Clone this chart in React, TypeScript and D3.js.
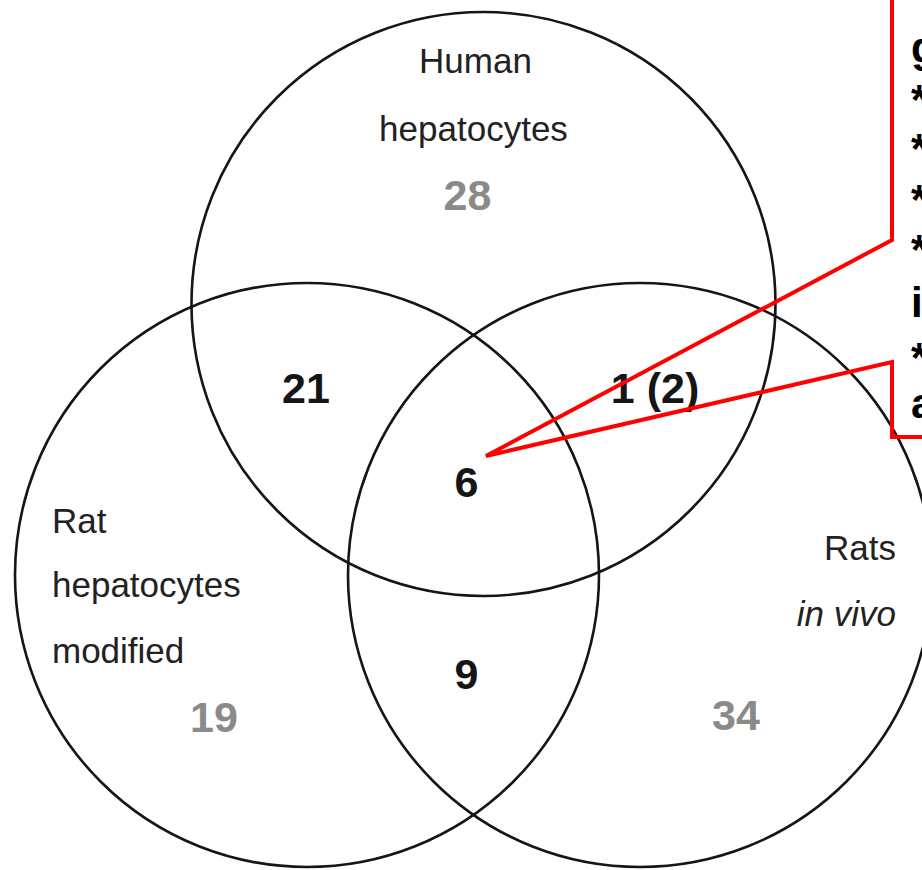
import * as d3 from "d3";
import React from "react";

// the three sets and the counts of each region
const setNames = ["Human hepatocytes", "Rat hepatocytes modified", "Rats in vivo"];
const regionKeys = ["H", "R", "V", "HR", "HV", "RV", "HRV"];
const regionCounts = ["28", "19", "34", "21", "1 (2)", "9", "6"];
// what is left visible of the red callout text (cut by the right edge)
const calloutLines = ["g", "*", "*", "*", "*", "i", "*", "a"];

const W = 922;
const H = 870;

// circle centres in unit coordinates: left, right and top
const unitCentres: [number, number][] = [
  [0.53, 1],
  [0, 0],
  [1, 0],
];

const App: React.FC = () => {
  const x = d3.scaleLinear().domain([0, 1]).range([307, 640]);
  const y = d3.scaleLinear().domain([0, 1]).range([575, 304]);
  const r = 292;

  const centres = unitCentres.map(([u, v]) => [x(u), y(v)]);
  const [top, left, right] = centres;

  // label anchors for each region, relative to the circle centres
  const regionPos: Record<string, [number, number, boolean]> = {
    H: [top[0] - 16, top[1] - 94, false],
    R: [left[0] - 93, left[1] + 157, false],
    V: [right[0] + 96, right[1] + 155, false],
    HR: [left[0] - 1, left[1] - 172, true],
    HV: [right[0] + 15, right[1] - 172, true],
    RV: [(left[0] + right[0]) / 2 - 7, left[1] + 114, true],
    HRV: [top[0] - 17, top[1] + 193, true],
  };

  const labelFont = "'Liberation Sans', Arial, sans-serif";
  const tip: [number, number] = [486, 456];
  const boxX = 892;
  const callout = d3.line()([
    [boxX, -5],
    [boxX, 240],
    tip,
    [boxX, 362],
    [boxX, 437],
    [W + 10, 437],
  ]);

  return (
    <svg
      width={W}
      height={H}
      style={{ position: "absolute", left: 0, top: 0, background: "#fff" }}
      fontFamily={labelFont}
    >
      {centres.map((c, i) => (
        <circle
          key={setNames[i]}
          cx={c[0]}
          cy={c[1]}
          r={r}
          fill="none"
          stroke="#151515"
          strokeWidth={2.6}
        />
      ))}

      {/* set names */}
      <g fontSize={35} fill="#222">
        <text x={top[0] - 8} y={73} textAnchor="middle">Human</text>
        <text x={top[0] - 10} y={141} textAnchor="middle">hepatocytes</text>
        <text x={52} y={533}>Rat</text>
        <text x={52} y={597}>hepatocytes</text>
        <text x={52} y={663}>modified</text>
        <text x={896} y={560} textAnchor="end">Rats</text>
        <text x={896} y={626} textAnchor="end" fontStyle="italic">in vivo</text>
      </g>

      {/* region counts */}
      <g fontSize={43} fontWeight="bold" textAnchor="middle">
        {regionKeys.map((k, i) => {
          const [px, py, inner] = regionPos[k];
          return (
            <text key={k} x={px} y={py} fill={inner ? "#151515" : "#8a8a8a"}>
              {regionCounts[i]}
            </text>
          );
        })}
      </g>

      {/* red callout */}
      <path d={callout ?? ""} fill="#fff" fillOpacity={0} stroke="#ff0000" strokeWidth={4} />
      <g fontSize={42} fontWeight="bold" fill="#000">
        {calloutLines.map((t, i) => {
          const baselines = [62, 114, 163, 214, 264, 317, 372, 418];
          return (
            <text key={i} x={911} y={baselines[i]}>
              {t}
            </text>
          );
        })}
      </g>
    </svg>
  );
};

export default App;
